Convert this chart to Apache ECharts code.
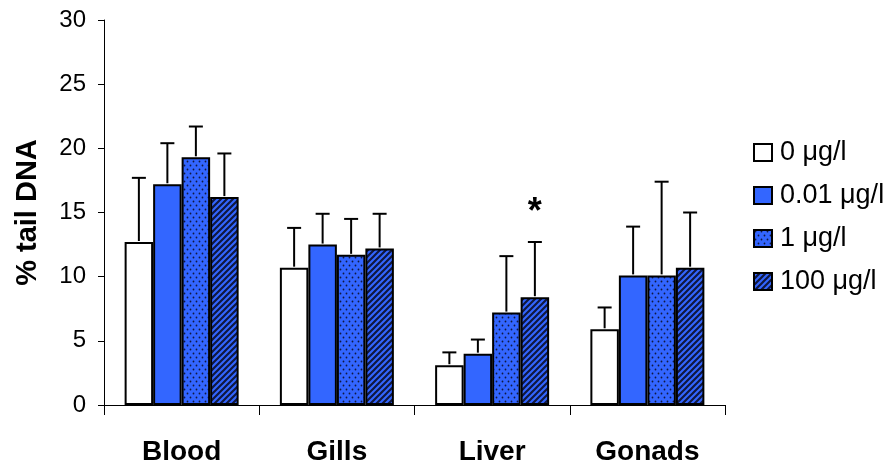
<!DOCTYPE html>
<html><head><meta charset="utf-8">
<script src="https://cdn.jsdelivr.net/npm/echarts@6/dist/echarts.min.js"></script>
<style>html,body{margin:0;padding:0;background:#fff}#c{width:888px;height:467px}</style>
</head><body><div id="c"></div>
<script>
const categories = ['Blood', 'Gills', 'Liver', 'Gonads'];
const seriesNames = ['0 μg/l', '0.01 μg/l', '1 μg/l', '100 μg/l'];
const mean0 = [12.7, 10.7, 3.1, 5.9];
const mean001 = [17.2, 12.5, 4.0, 10.1];
const mean1 = [19.3, 11.7, 7.2, 10.1];
const mean100 = [16.2, 12.2, 8.4, 10.7];
const err0 = [5.0, 3.1, 1.0, 1.7];
const err001 = [3.2, 2.4, 1.1, 3.8];
const err1 = [2.4, 2.8, 4.4, 7.3];
const err100 = [3.4, 2.7, 4.3, 4.3];
// significance marks: [category index, series index]
const significant = [[2, 3]];
const yTicks = [0, 5, 10, 15, 20, 25, 30];

const means = [mean0, mean001, mean1, mean100];
const errs = [err0, err001, err1, err100];

const BLUE = '#3366FF';
const DARK = '#101840';

function dotPattern() {
  const c = document.createElement('canvas');
  c.width = 6; c.height = 8;
  const g = c.getContext('2d');
  g.fillStyle = BLUE; g.fillRect(0, 0, 6, 8);
  g.fillStyle = DARK;
  g.beginPath(); g.arc(1.5, 1.5, 0.9, 0, Math.PI * 2); g.fill();
  g.beginPath(); g.arc(4.5, 5.5, 0.9, 0, Math.PI * 2); g.fill();
  return { image: c, repeat: 'repeat' };
}
function hatchPattern() {
  const s = 6;
  const c = document.createElement('canvas');
  c.width = s; c.height = s;
  const g = c.getContext('2d');
  g.fillStyle = BLUE; g.fillRect(0, 0, s, s);
  g.strokeStyle = DARK; g.lineWidth = 2.2;
  g.beginPath();
  for (let k = -1; k <= 1; k++) {
    g.moveTo(k * s - 1, s + 1); g.lineTo(k * s + s + 1, -1);
  }
  g.stroke();
  return { image: c, repeat: 'repeat' };
}

const fills = ['#FFFFFF', BLUE, dotPattern(), hatchPattern()];
const BAR_W = 28.5;
const FONT = 'Arial, "Liberation Sans", sans-serif';

const series = [];
seriesNames.forEach((name, i) => {
  series.push({
    name: name,
    type: 'bar',
    data: means[i],
    barWidth: BAR_W,
    barGap: '0%',
    itemStyle: { color: fills[i], borderColor: '#000', borderWidth: 2 },
    z: 2
  });
});
seriesNames.forEach((name, i) => {
  series.push({
    type: 'custom',
    name: name + ' err',
    data: means[i].map((m, j) => [j, m, m + errs[i][j]]),
    z: 3,
    silent: true,
    renderItem: function (params, api) {
      const j = api.value(0);
      const base = api.coord([j, api.value(1)]);
      const top = api.coord([j, api.value(2)]);
      const x = base[0] + (i - 1.5) * BAR_W;
      const cap = 7;
      const children = [
        { type: 'line', shape: { x1: x, y1: base[1] - 1, x2: x, y2: top[1] }, style: { stroke: '#000', lineWidth: 2 } },
        { type: 'line', shape: { x1: x - cap, y1: top[1], x2: x + cap, y2: top[1] }, style: { stroke: '#000', lineWidth: 2 } }
      ];
      if (significant.some(s => s[0] === j && s[1] === i)) {
        children.push({ type: 'text', x: x, y: top[1] - 29, style: { text: '*', fill: '#000', font: 'bold 36px Arial, "Liberation Sans"', align: 'center', verticalAlign: 'middle' } });
      }
      return { type: 'group', children: children };
    }
  });
});

const chart = echarts.init(document.getElementById('c'));
chart.setOption({
  animation: false,
  backgroundColor: '#fff',
  textStyle: { fontFamily: FONT },
  grid: { left: 104, right: 163, top: 20, bottom: 62 },
  legend: {
    data: seriesNames,
    orient: 'vertical',
    left: 748,
    top: 134,
    padding: 5,
    itemWidth: 18,
    itemHeight: 17,
    itemGap: 16,
    icon: 'rect',
    itemStyle: { borderColor: '#000', borderWidth: 2 },
    textStyle: { fontSize: 27, color: '#000', fontFamily: FONT, padding: [0, 0, 0, 3] }
  },
  xAxis: {
    type: 'category',
    data: categories,
    axisLine: { lineStyle: { color: '#000', width: 1 } },
    axisTick: { show: true, length: 10, lineStyle: { color: '#000' } },
    axisLabel: { fontSize: 28, fontWeight: 'bold', color: '#000', margin: 33, fontFamily: FONT }
  },
  yAxis: {
    type: 'value',
    min: 0, max: 30, interval: 5,
    name: '% tail DNA',
    nameLocation: 'middle',
    nameGap: 62,
    nameTextStyle: { fontSize: 29, fontWeight: 'bold', color: '#000', fontFamily: FONT },
    axisLine: { show: true, lineStyle: { color: '#000', width: 1 } },
    axisTick: { show: true, length: 6, lineStyle: { color: '#000' } },
    axisLabel: { fontSize: 24, color: '#000', margin: 18, fontFamily: FONT, formatter: v => yTicks.includes(v) ? String(v) : '' },
    splitLine: { show: false }
  },
  series: series
});
</script>
</body></html>
